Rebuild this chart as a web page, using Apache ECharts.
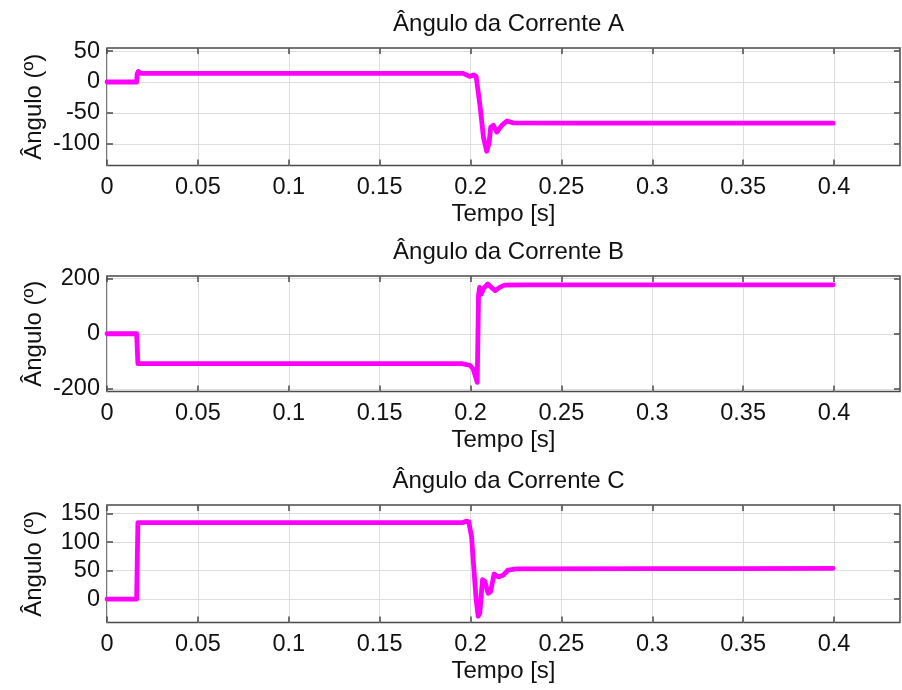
<!DOCTYPE html>
<html>
<head>
<meta charset="utf-8">
<title>Ângulo das Correntes</title>
<script src="https://cdn.jsdelivr.net/npm/echarts@6/dist/echarts.min.js"></script>
<style>
  html, body { margin: 0; padding: 0; background: #ffffff; }
  #chart { width: 902px; height: 690px; }
</style>
</head>
<body>
<div id="chart"></div>
<script>
// Phase angle of each line current (degrees) against time (s)
const timeA  = [0, 0.0163, 0.0166, 0.0172, 0.0185, 0.05, 0.1, 0.15, 0.196, 0.1995, 0.2016, 0.2031, 0.2053, 0.2071, 0.2089, 0.2102, 0.2111, 0.2126, 0.2145, 0.2172, 0.2200, 0.2236, 0.26, 0.3, 0.35, 0.3995];
const angleA = [0, 0, 13, 17, 14, 14, 14, 14, 14, 9, 11.5, 9, -40, -89, -112, -99, -73, -70, -81, -70, -63, -66, -66.5, -66.5, -66.5, -66.5];

const timeB  = [0, 0.0163, 0.0170, 0.05, 0.1, 0.15, 0.1952, 0.1996, 0.2014, 0.2028, 0.2037, 0.2044, 0.2050, 0.2059, 0.2073, 0.2095, 0.2114, 0.2136, 0.2160, 0.2187, 0.23, 0.3, 0.35, 0.3995];
const angleB = [0, 0, -108, -108, -108, -108, -108, -114, -126, -156, -176, 138, 168, 144, 165, 180, 168, 156, 168, 176, 177, 177, 177, 177];

const timeC  = [0, 0.0163, 0.0170, 0.05, 0.1, 0.15, 0.1955, 0.1975, 0.1990, 0.2006, 0.2015, 0.2031, 0.2042, 0.2051, 0.2066, 0.2079, 0.2097, 0.2110, 0.2130, 0.2152, 0.2180, 0.2207, 0.2253, 0.3, 0.35, 0.3995];
const angleC = [0, 0, 134, 134, 134, 134, 134, 136.5, 136, 109, 68, -1, -30, -25, 34, 31, 10, 13, 44, 39, 42, 51, 53, 53.5, 53.5, 54];

// Tick labels
const timeTicks   = [0, 0.05, 0.1, 0.15, 0.2, 0.25, 0.3, 0.35, 0.4];
const angleTicksA = [-100, -50, 0, 50];
const angleTicksB = [-200, 0, 200];
const angleTicksC = [0, 50, 100, 150];

const titles = ['Ângulo da Corrente A', 'Ângulo da Corrente B', 'Ângulo da Corrente C'];
const xName = 'Tempo [s]';
const yName = 'Ângulo (º)';

// Layout of the three stacked panels
const FONT = 'Liberation Sans, Arial, Helvetica, sans-serif';
const panels = [
  { top: 48,  height: 117.5, yMin: -135, yMax: 55,  yTicks: angleTicksA, t: timeA, v: angleA, titleTop: 7 },
  { top: 276, height: 115.5, yMin: -209, yMax: 209, yTicks: angleTicksB, t: timeB, v: angleB, titleTop: 235 },
  { top: 505, height: 117.5, yMin: -41,  yMax: 165, yTicks: angleTicksC, t: timeC, v: angleC, titleTop: 464 }
];
const X_MAX = 0.4363;
const frameColor = '#4a4a4a';
const textColor = '#111111';

const grid = [], xAxis = [], yAxis = [], series = [], title = [];

panels.forEach((p, i) => {
  grid.push({
    left: 107, right: 2, top: p.top, height: p.height,
    show: true, borderColor: frameColor, borderWidth: 1.5, backgroundColor: '#ffffff'
  });
  title.push({
    text: titles[i], left: 503.5, top: p.titleTop, textAlign: 'center',
    textStyle: { fontFamily: FONT, fontSize: 24, fontWeight: 'normal', color: textColor }
  });
  const tickStyle = { show: true, inside: true, length: 6, lineStyle: { color: frameColor, width: 1.5 } };
  const noLine = { show: false, onZero: false };
  // bottom time axis with labels and grid lines
  xAxis.push({
    type: 'value', gridIndex: i, position: 'bottom', min: 0, max: X_MAX,
    name: xName, nameLocation: 'middle', nameGap: 37, nameMoveOverlap: false,
    nameTextStyle: { fontFamily: FONT, fontSize: 24, color: textColor },
    axisLine: noLine,
    axisTick: Object.assign({ customValues: timeTicks }, tickStyle),
    axisLabel: { customValues: timeTicks, margin: 10, fontFamily: FONT, fontSize: 23.5, color: textColor,
                 formatter: v => String(v) },
    splitLine: { show: true, lineStyle: { color: '#dedede', width: 1 } }
  });
  // top mirror axis: ticks only
  xAxis.push({
    type: 'value', gridIndex: i, position: 'top', min: 0, max: X_MAX,
    axisLine: noLine,
    axisTick: Object.assign({ customValues: timeTicks }, tickStyle),
    axisLabel: { show: false }, splitLine: { show: false }
  });
  // left angle axis with labels and grid lines
  yAxis.push({
    type: 'value', gridIndex: i, position: 'left', min: p.yMin, max: p.yMax,
    name: yName, nameLocation: 'middle', nameGap: 61, nameRotate: 90, nameMoveOverlap: false,
    nameTextStyle: { fontFamily: FONT, fontSize: 24, color: textColor },
    axisLine: noLine,
    axisTick: Object.assign({ customValues: p.yTicks }, tickStyle),
    axisLabel: { customValues: p.yTicks, margin: 7, fontFamily: FONT, fontSize: 23.5, color: textColor },
    splitLine: { show: true, lineStyle: { color: '#dedede', width: 1 } }
  });
  // right mirror axis: ticks only
  yAxis.push({
    type: 'value', gridIndex: i, position: 'right', min: p.yMin, max: p.yMax,
    axisLine: noLine,
    axisTick: Object.assign({ customValues: p.yTicks }, tickStyle),
    axisLabel: { show: false }, splitLine: { show: false }
  });
  series.push({
    type: 'line', xAxisIndex: 2 * i, yAxisIndex: 2 * i,
    data: p.t.map((t, k) => [t, p.v[k]]),
    showSymbol: false, symbol: 'none', clip: true,
    lineStyle: { color: '#ff00ff', width: 4.8, join: 'round', cap: 'round' }
  });
});

const chart = echarts.init(document.getElementById('chart'), null, { renderer: 'canvas' });
chart.setOption({
  animation: false,
  backgroundColor: '#ffffff',
  title, grid, xAxis, yAxis, series
});
</script>
</body>
</html>
